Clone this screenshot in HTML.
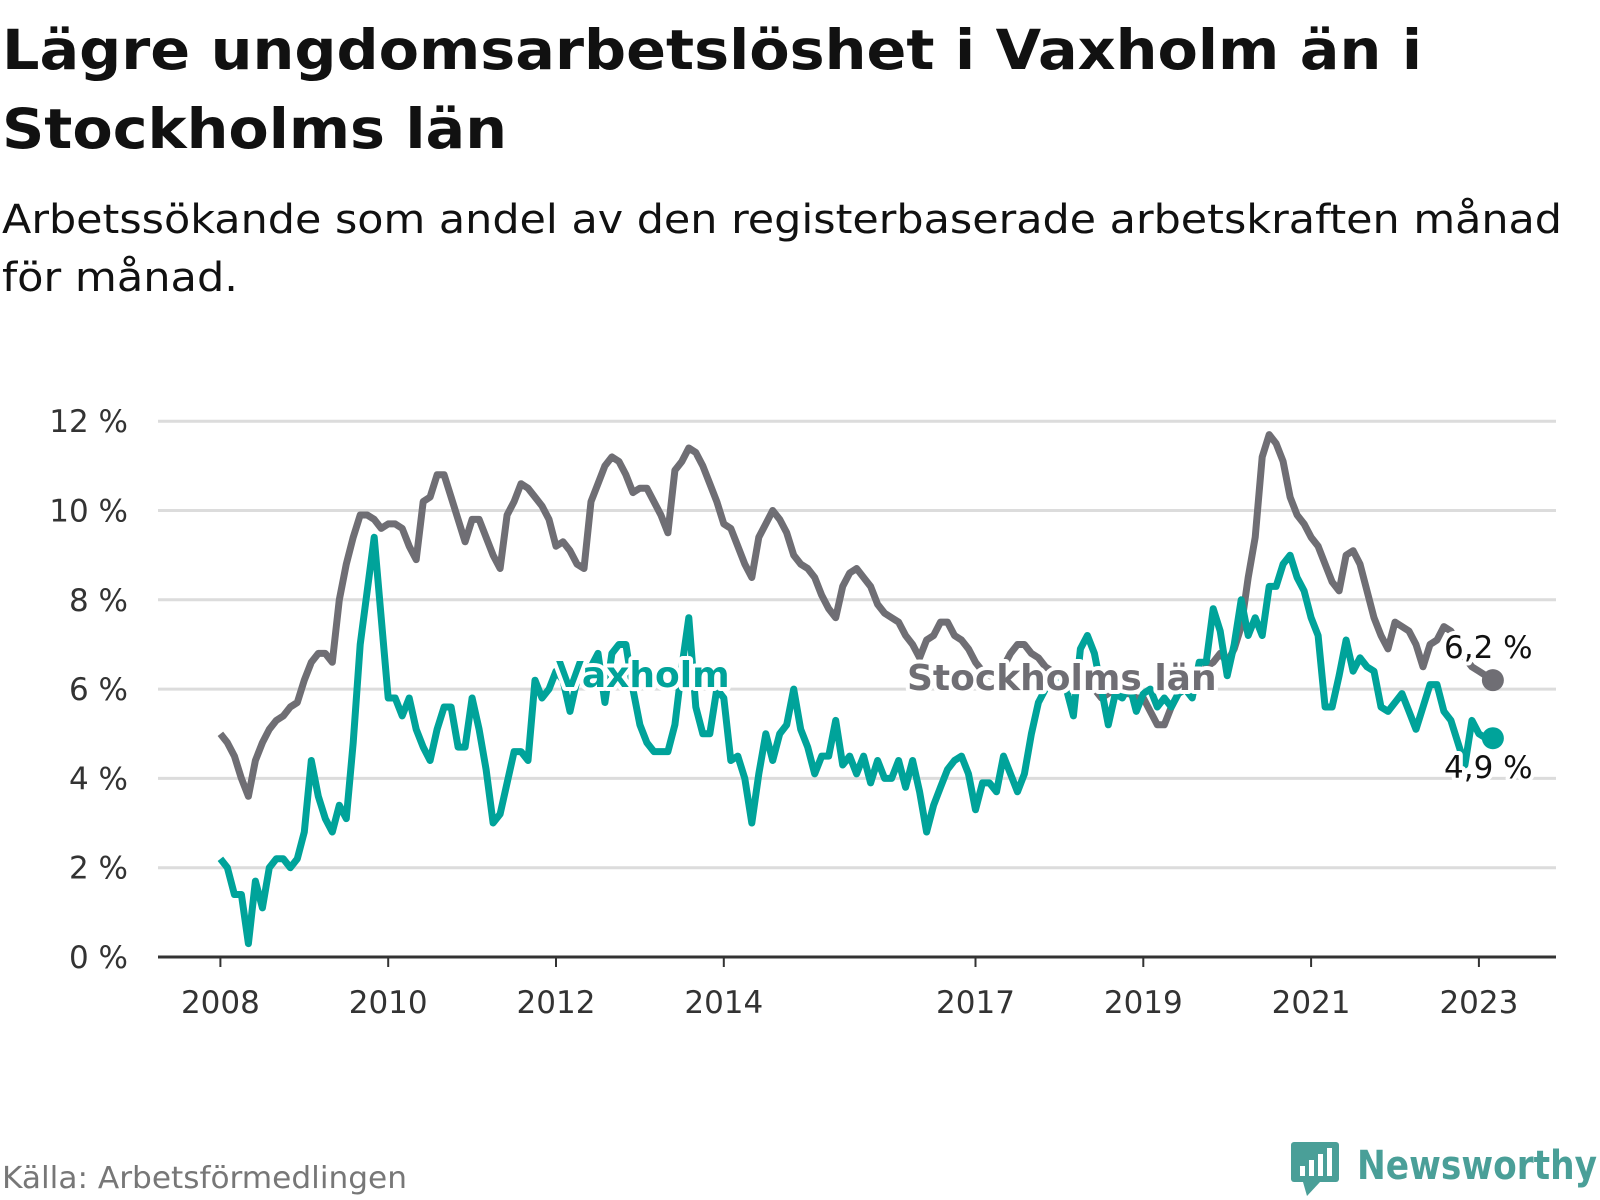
<!DOCTYPE html>
<html><head><meta charset="utf-8"><style>
html,body{margin:0;padding:0;background:#fff;}
svg{display:block;font-family:"DejaVu Sans","Liberation Sans",sans-serif;}
</style></head><body>
<svg width="1600" height="1200" viewBox="0 0 1600 1200">
<text x="2" y="69" font-size="55" font-weight="bold" fill="#111" textLength="1420" lengthAdjust="spacingAndGlyphs">Lägre ungdomsarbetslöshet i Vaxholm än i</text>
<text x="2" y="148" font-size="55" font-weight="bold" fill="#111" textLength="505" lengthAdjust="spacingAndGlyphs">Stockholms län</text>
<text x="2" y="233" font-size="40" fill="#111" textLength="1560" lengthAdjust="spacingAndGlyphs">Arbetssökande som andel av den registerbaserade arbetskraften månad</text>
<text x="2" y="291" font-size="40" fill="#111" textLength="236" lengthAdjust="spacingAndGlyphs">för månad.</text>
<g id="grid"></g>
<g id="yticks"></g>
<g id="xticks"></g>
<g id="series"></g>
<g id="labels"></g>
<text x="2" y="1188" font-size="30" fill="#777" textLength="405" lengthAdjust="spacingAndGlyphs">Källa: Arbetsförmedlingen</text>
<g>
<rect x="1291" y="1142" width="48" height="40" rx="3" fill="#4a9f98"/>
<polygon points="1303,1182 1320,1182 1307,1196" fill="#4a9f98"/>
<rect x="1300" y="1166" width="5" height="10" fill="#fff"/><rect x="1309" y="1160" width="5" height="16" fill="#fff"/><rect x="1318" y="1154" width="5" height="22" fill="#fff"/><rect x="1327" y="1148" width="5" height="28" fill="#fff"/>
<text x="1357" y="1179" font-size="40" font-weight="bold" fill="#4a9f98" textLength="240" lengthAdjust="spacingAndGlyphs">Newsworthy</text>
</g>
</svg>
<script>
const yTicks=[0,2,4,6,8,10,12];
const xTickYears=[2008,2010,2012,2014,2017,2019,2021,2023];
const stockholm=[5.0,4.8,4.5,4.0,3.6,4.4,4.8,5.1,5.3,5.4,5.6,5.7,
6.2,6.6,6.8,6.8,6.6,8.0,8.8,9.4,9.9,9.9,9.8,9.6,
9.7,9.7,9.6,9.2,8.9,10.2,10.3,10.8,10.8,10.3,9.8,9.3,
9.8,9.8,9.4,9.0,8.7,9.9,10.2,10.6,10.5,10.3,10.1,9.8,
9.2,9.3,9.1,8.8,8.7,10.2,10.6,11.0,11.2,11.1,10.8,10.4,
10.5,10.5,10.2,9.9,9.5,10.9,11.1,11.4,11.3,11.0,10.6,10.2,
9.7,9.6,9.2,8.8,8.5,9.4,9.7,10.0,9.8,9.5,9.0,8.8,
8.7,8.5,8.1,7.8,7.6,8.3,8.6,8.7,8.5,8.3,7.9,7.7,
7.6,7.5,7.2,7.0,6.7,7.1,7.2,7.5,7.5,7.2,7.1,6.9,
6.6,6.4,6.3,6.3,6.5,6.8,7.0,7.0,6.8,6.7,6.5,6.4,
6.3,6.2,6.3,6.3,6.1,6.0,5.8,5.9,6.0,5.9,5.9,5.8,
5.8,5.5,5.2,5.2,5.6,5.9,6.0,6.1,6.2,6.5,6.6,6.8,
6.6,6.9,7.4,8.5,9.4,11.2,11.7,11.5,11.1,10.3,9.9,9.7,
9.4,9.2,8.8,8.4,8.2,9.0,9.1,8.8,8.2,7.6,7.2,6.9,
7.5,7.4,7.3,7.0,6.5,7.0,7.1,7.4,7.3,7.0,6.7,6.5,
6.4,6.3,6.2];
const vaxholm=[2.2,2.0,1.4,1.4,0.3,1.7,1.1,2.0,2.2,2.2,2.0,2.2,
2.8,4.4,3.6,3.1,2.8,3.4,3.1,4.8,7.0,8.2,9.4,7.6,
5.8,5.8,5.4,5.8,5.1,4.7,4.4,5.1,5.6,5.6,4.7,4.7,
5.8,5.1,4.2,3.0,3.2,3.9,4.6,4.6,4.4,6.2,5.8,6.0,
6.4,6.2,5.5,6.2,6.5,6.5,6.8,5.7,6.8,7.0,7.0,6.0,
5.2,4.8,4.6,4.6,4.6,5.2,6.5,7.6,5.6,5.0,5.0,6.0,
5.8,4.4,4.5,4.0,3.0,4.1,5.0,4.4,5.0,5.2,6.0,5.1,
4.7,4.1,4.5,4.5,5.3,4.3,4.5,4.1,4.5,3.9,4.4,4.0,
4.0,4.4,3.8,4.4,3.7,2.8,3.4,3.8,4.2,4.4,4.5,4.1,
3.3,3.9,3.9,3.7,4.5,4.1,3.7,4.1,5.0,5.7,6.0,6.2,
6.3,6.0,5.4,6.9,7.2,6.8,6.0,5.2,5.9,5.8,6.1,5.5,
5.9,6.0,5.6,5.8,5.6,5.9,6.0,5.8,6.6,6.6,7.8,7.3,
6.3,7.0,8.0,7.2,7.6,7.2,8.3,8.3,8.8,9.0,8.5,8.2,
7.6,7.2,5.6,5.6,6.3,7.1,6.4,6.7,6.5,6.4,5.6,5.5,
5.7,5.9,5.5,5.1,5.6,6.1,6.1,5.5,5.3,4.8,4.3,5.3,
5.0,4.9,4.9];
const NS='http://www.w3.org/2000/svg';
const x0=220.4, perYear=83.9, yBase=957, perUnit=44.65;
const xOfMonth=i=>x0+i*perYear/12;
const xOfYear=y=>x0+(y-2008)*perYear;
const yOf=v=>yBase-v*perUnit;
function mk(tag,parent){const e=document.createElementNS(NS,tag);document.getElementById(parent).appendChild(e);return e;}
yTicks.forEach(t=>{
  const l=mk('line','grid');
  
  
  l.setAttribute('x1',158);l.setAttribute('x2',1556);l.setAttribute('y1',yOf(t));l.setAttribute('y2',yOf(t));
  l.setAttribute('stroke',t===0?'#333':'#dcdcdc');l.setAttribute('stroke-width',3);
  const tx=mk('text','yticks');
  
  
  tx.setAttribute('x',128);tx.setAttribute('y',yOf(t)+11);tx.setAttribute('text-anchor','end');
  tx.setAttribute('font-size','31');tx.setAttribute('fill','#333');tx.textContent=t+' %';
});
xTickYears.forEach(y=>{
  const l=mk('line','xticks');
  
  
  l.setAttribute('x1',xOfYear(y));l.setAttribute('x2',xOfYear(y));l.setAttribute('y1',yBase);l.setAttribute('y2',yBase+10);
  l.setAttribute('stroke','#333');l.setAttribute('stroke-width',2);
  const tx=mk('text','xticks');
  
  
  tx.setAttribute('x',xOfYear(y));tx.setAttribute('y',1013);tx.setAttribute('text-anchor','middle');
  tx.setAttribute('font-size','31');tx.setAttribute('fill','#333');tx.textContent=y;
});
function line(data,color,name){
  const p=mk('polyline','series');
  
  
  p.setAttribute('points',data.map((v,i)=>xOfMonth(i).toFixed(1)+','+yOf(v).toFixed(1)).join(' '));
  p.setAttribute('fill','none');p.setAttribute('stroke',color);p.setAttribute('stroke-width',7);p.setAttribute('stroke-linejoin','round');
  const c=mk('circle','series');
  
  
  const n=data.length-1;
  c.setAttribute('cx',xOfMonth(n));c.setAttribute('cy',yOf(data[n]));c.setAttribute('r',11);c.setAttribute('fill',color);
}
line(stockholm,'#6f6e74','stockholm-line');
line(vaxholm,'#00a39a','vaxholm-line');
function label(txt,x,y,color,size,weight,name){
  const t=mk('text','labels');
  
  
  t.setAttribute('x',x);t.setAttribute('y',y);t.setAttribute('font-size',size);t.setAttribute('font-weight',weight);
  t.setAttribute('fill',color);t.setAttribute('stroke','#fff');t.setAttribute('stroke-width',8);t.setAttribute('paint-order','stroke');
  t.setAttribute('stroke-linejoin','round');t.textContent=txt;
}
label('Vaxholm',556,687,'#00a39a',36,'bold','vaxholm-label');
label('Stockholms län',907,690,'#6f6e74',36,'bold','stockholm-label');
label('6,2 %',1444,658,'#111',31,'normal','stockholm-end-value');
label('4,9 %',1444,778,'#111',31,'normal','vaxholm-end-value');
</script>
</body></html>
